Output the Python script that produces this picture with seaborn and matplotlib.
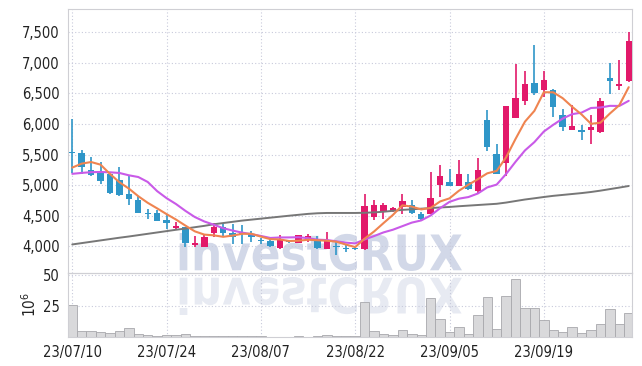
import matplotlib

matplotlib.use("Agg")
import matplotlib.pyplot as plt  # noqa: E402
import numpy as np
import pandas as pd
import seaborn as sns
from matplotlib.font_manager import FontProperties
from matplotlib.patches import PathPatch
from matplotlib.textpath import TextPath
from matplotlib.ticker import FuncFormatter
from matplotlib.transforms import Affine2D

# --- data (prices in IDR, volume in millions) ---
tick_pos = [0, 10, 20, 30, 40, 50]
tick_labels = ["23/07/10", "23/07/24", "23/08/07", "23/08/22", "23/09/05", "23/09/19"]

open_ = [5550, 5530, 5240, 5210, 5180, 5090, 4850, 4750, 4530, 4550,
         4425, 4300, 4315, 4020, 3990, 4225, 4315, 4220, 4215, 4205,
         4110, 4085, 3965, 4080, 4060, 4115, 4100, 3960, 3995, 3975,
         3955, 3960, 4480, 4560, 4580, 4635, 4680, 4520, 4535, 5000,
         5050, 4990, 5045, 4900, 6060, 5515, 5360, 6100, 6370, 6670,
         6560, 6560, 6140, 5900, 5885, 5900, 5870, 6750, 6625, 6700]
high = [6075, 5580, 5460, 5380, 5190, 5290, 5170, 4820, 4610, 4590,
        4520, 4390, 4320, 4165, 4200, 4380, 4370, 4360, 4350, 4250,
        4135, 4120, 4190, 4110, 4190, 4195, 4160, 4235, 4070, 4015,
        4000, 4860, 4750, 4700, 4650, 4850, 4765, 4560, 5215, 5325,
        5270, 5405, 5190, 5445, 6225, 5680, 6290, 6985, 6865, 7285,
        6860, 6565, 6250, 6305, 5980, 6140, 6430, 7005, 7050, 7505]
low = [5200, 5190, 5150, 5020, 4850, 4830, 4680, 4540, 4450, 4410,
       4285, 4260, 3990, 3990, 3985, 4150, 4150, 4030, 4035, 4070,
       4030, 3995, 3960, 4050, 4055, 4070, 3960, 3955, 3850, 3905,
       3940, 3945, 4435, 4440, 4560, 4535, 4520, 4430, 4525, 4805,
       4985, 4980, 4920, 4860, 5560, 5175, 5145, 6090, 6305, 6480,
       6440, 6115, 5880, 5895, 5745, 5670, 5845, 6495, 6550, 6690]
close = [5525, 5290, 5170, 5060, 4870, 4845, 4775, 4545, 4520, 4415,
         4375, 4330, 4050, 4050, 4150, 4315, 4210, 4150, 4195, 4155,
         4080, 4005, 4125, 4065, 4180, 4160, 3965, 4085, 3985, 3950,
         3950, 4655, 4670, 4670, 4620, 4735, 4550, 4440, 4795, 5145,
         4990, 5175, 4930, 5245, 5625, 5190, 6290, 6430, 6660, 6505,
         6715, 6280, 5950, 5960, 5875, 5950, 6370, 6700, 6640, 7350]
volume = [25.7, 4.2, 4.2, 3.4, 2.6, 4.2, 6.9, 1.9, 1.1, 0.5,
          1.1, 1.1, 1.9, 0.5, 0.5, 0.5, 0.4, 0.4, 0.3, 0.3,
          0.2, 0.1, 0.1, 0.1, 0.2, 0.1, 0.6, 1.3, 0.6, 0.2,
          0.2, 28.3, 4.2, 2.1, 1.1, 5.0, 2.1, 1.1, 31.3, 14.0,
          3.4, 8.2, 2.1, 17.2, 32.3, 6.1, 33.1, 46.6, 23.3, 23.3,
          13.3, 5.3, 3.7, 7.7, 2.9, 5.3, 10.1, 22.5, 10.1, 19.4]
ma5 = [5287, 5352, 5378, 5335, 5183, 5047, 4944, 4819, 4711, 4620,
       4526, 4437, 4338, 4244, 4191, 4179, 4155, 4175, 4204, 4205,
       4158, 4117, 4112, 4086, 4091, 4107, 4099, 4091, 4075, 4029,
       3987, 4125, 4242, 4379, 4513, 4670, 4649, 4603, 4628, 4733,
       4784, 4909, 5007, 5097, 5193, 5233, 5456, 5756, 6039, 6215,
       6520, 6518, 6422, 6282, 6156, 6003, 6021, 6171, 6307, 6602]
ma10 = [5185, 5200, 5212, 5215, 5210, 5199, 5161, 5133, 5052, 4902,
        4787, 4691, 4579, 4478, 4406, 4353, 4296, 4257, 4224, 4198,
        4169, 4136, 4144, 4145, 4148, 4133, 4108, 4102, 4081, 4060,
        4047, 4112, 4167, 4227, 4271, 4329, 4387, 4423, 4504, 4623,
        4727, 4779, 4805, 4863, 4963, 5009, 5183, 5382, 5568, 5704,
        5877, 5987, 6089, 6161, 6186, 6262, 6270, 6297, 6295, 6379]
ma60 = [4030, 4052, 4074, 4096, 4118, 4140, 4160, 4182, 4204, 4226,
        4248, 4270, 4290, 4312, 4334, 4360, 4380, 4400, 4420, 4436,
        4452, 4468, 4484, 4500, 4515, 4530, 4540, 4545, 4545, 4545,
        4545, 4548, 4555, 4565, 4580, 4595, 4605, 4615, 4625, 4635,
        4643, 4655, 4665, 4675, 4685, 4695, 4715, 4740, 4765, 4785,
        4806, 4825, 4840, 4855, 4870, 4888, 4910, 4935, 4960, 4986]

UP = "#e2196a"
DOWN = "#2f96c8"
GRID = "#c8cadb"
SPINE = "#cfcfd4"
W, H = 642, 366

sns.set_theme(style="white")
plt.rcParams["font.family"] = ["DejaVu Sans"]
plt.rcParams["font.stretch"] = "condensed"

df = pd.DataFrame({"open": open_, "high": high, "low": low, "close": close,
                   "volume": volume, "ma5": ma5, "ma10": ma10, "ma60": ma60})
df["idx"] = np.arange(len(df))
colors = np.where(df["close"] >= df["open"], UP, DOWN)

fig = plt.figure(figsize=(W / 100, H / 100), dpi=100)
x0, x1 = 68.3, 632.3
y_top, y_mid, y_bot = 9.3, 273.0, 336.7
ax = fig.add_axes([x0 / W, 1 - y_mid / H, (x1 - x0) / W, (y_mid - y_top) / H])
axv = fig.add_axes([x0 / W, 1 - y_bot / H, (x1 - x0) / W, (y_bot - y_mid) / H], sharex=ax)

for a in (ax, axv):
    a.set_facecolor("none")
    a.grid(True, color=GRID, linestyle=(0, (1, 2)), linewidth=0.8)
    a.set_axisbelow(True)
    for s in a.spines.values():
        s.set_color(SPINE)
        s.set_linewidth(0.8)
    a.tick_params(length=0, colors="#222222", labelsize=10.5, pad=6)

# candles
ax.vlines(df["idx"], df["low"], df["high"], colors=colors, linewidth=1.2, zorder=3)
body_lo = df[["open", "close"]].min(axis=1)
body_h = (df["close"] - df["open"]).abs().clip(lower=25)
ax.bar(df["idx"], body_h, bottom=body_lo, width=0.68, color=colors, linewidth=0, zorder=4)

# moving averages
sns.lineplot(data=df, x="idx", y="ma60", ax=ax, color="#777777", linewidth=1.4, zorder=5)
sns.lineplot(data=df, x="idx", y="ma10", ax=ax, color="#c95ae8", linewidth=1.5, zorder=5)
sns.lineplot(data=df, x="idx", y="ma5", ax=ax, color="#ef8450", linewidth=1.5, zorder=6)

ax.set_ylim(3563, 7876)
ax.set_yticks(range(4000, 7501, 500))
ax.yaxis.set_major_formatter(FuncFormatter(lambda v, p: f"{int(v):,}"))
ax.set_xlabel("")
ax.set_ylabel("")
ax.tick_params(labelbottom=False)

# volume
axv.bar(df["idx"], df["volume"], width=1.0, color="#d9d9db", edgecolor="#a8a8ac",
        linewidth=0.6, zorder=2)
axv.set_ylim(0, 51.3)
axv.set_yticks([25, 50])
axv.set_ylabel(r"$10^6$", fontsize=11, color="#222222", labelpad=3)
axv.set_xlim(-0.42, 59.38)
axv.set_xticks(tick_pos)
axv.set_xticklabels(tick_labels, fontsize=10.5)
axv.set_xlabel("")

# watermark with reflection
tp = TextPath((0, 0), "investCRUX", size=50, prop=FontProperties(family="DejaVu Sans", weight="bold"))
vx, vy = tp.vertices[:, 0], tp.vertices[:, 1]
px0, px1, py1 = 176, 462, 133
sx = (px1 - px0) / (vx.max() - vx.min())
sy = (py1 - 95) / (vy.max() - vy.min())
to_fig = Affine2D().scale(1 / W, 1 / H) + fig.transFigure
main_tr = Affine2D().translate(-vx.min(), -vy.min()).scale(sx, sy).translate(px0, 95) + to_fig
refl_tr = Affine2D().translate(-vx.min(), -vy.min()).scale(sx, -sy).translate(px0, 89) + to_fig
fig.add_artist(PathPatch(tp, transform=main_tr, facecolor="#d2d8e8", edgecolor="none", zorder=-1))
fig.add_artist(PathPatch(tp, transform=refl_tr, facecolor="#e7eaf2", edgecolor="none", zorder=-1))

fig.savefig("out.png", dpi=100)
